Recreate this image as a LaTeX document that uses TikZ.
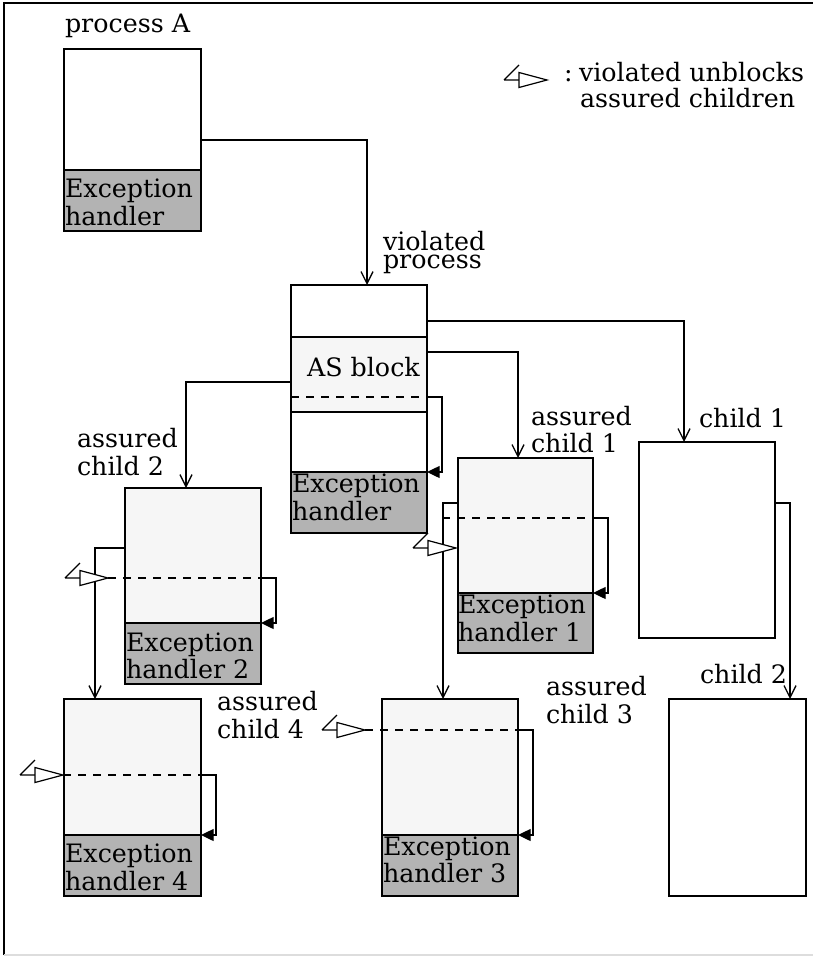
\documentclass[tikz,border=0pt]{standalone}
\usepackage{fontspec}
\setmainfont{DejaVu Serif}
\usetikzlibrary{arrows.meta,calc}

\definecolor{shade}{HTML}{F6F6F6}
\definecolor{handlergray}{HTML}{B3B3B3}
\definecolor{edgegray}{HTML}{DDDDDD}

% two stacked lines with a fixed baseline distance (in pt)
\newcommand\pairlines[3]{\vtop{\baselineskip=#1pt\lineskiplimit=-100pt\lineskip=0pt\hbox{#2}\hbox{#3}}}

\tikzset{
  every node/.style={inner sep=0pt, outer sep=0pt},
  txt/.style={anchor=base west, font=\fontsize{19pt}{21pt}\selectfont},
  blk/.style n args={2}{draw, line width=1pt, rectangle, anchor=north west,
    minimum width=#1*0.75pt, minimum height=#2*0.75pt},
  hdl/.style n args={2}{draw, line width=1pt, rectangle, anchor=south west,
    fill=handlergray, minimum width=#1*0.75pt, minimum height=#2*0.75pt},
  conn/.style={line width=1pt, -{Straight Barb[length=9pt, width=9pt, line width=1pt]}},
  guard/.style={line width=1pt, dash pattern=on 6pt off 5.25pt},
  loopback/.style={line width=1pt, -{Triangle[length=9.5pt, width=9pt]}},
  unblock/.pic={
    \draw[line width=0.9pt] (-43,0) -- (-28,0) (-43,0) -- (-28,-15);
    \draw[line width=0.9pt, fill=white] (-28,-7.5) -- (-28,7.5) -- (0,0) -- cycle;
  }
}

\begin{document}
\begin{tikzpicture}[x=0.75pt, y=-0.75pt]
\useasboundingbox (0,0) rectangle (813,956);

% frame
\draw[line width=1.5pt] (4,955) -- (4,3) -- (813,3);
\draw[edgegray, line width=1pt] (4,955) -- (813,955);

% process A
\node[txt] (lblA) at (65,33) {process A};
\node[blk={137}{182}, fill=white] (A) at (64,49) {};
\node[hdl={137}{61}] (Ah) at (A.south west) {};
\node[txt] (tA) at (65,197) {\pairlines{21}{Exception}{handler}};

% violated process with its AS block
\node[txt] (lblVP) at (383,250) {\pairlines{14}{violated}{process}};
\node[blk={136}{248}, fill=white] (VP) at (291,285) {};
\node[blk={136}{75}, fill=shade] (VPas) at (291,337) {};
\node[hdl={136}{61}] (VPh) at (VP.south west) {};
\node[txt] (tAS) at (307,376) {AS block};
\node[txt] (tVP) at (292,492) {\pairlines{21}{Exception}{handler}};

% assured child 1
\node[txt] (lblAC1) at (531,425) {\pairlines{20.25}{assured}{child 1}};
\node[blk={135}{195}, fill=shade] (AC1) at (458,458) {};
\node[hdl={135}{60}] (AC1h) at (AC1.south west) {};
\node[txt] (tAC1) at (458,613) {\pairlines{21}{Exception}{handler 1}};

% assured child 2
\node[txt] (lblAC2) at (77,447) {\pairlines{21}{assured}{child 2}};
\node[blk={136}{196}, fill=shade] (AC2) at (125,488) {};
\node[hdl={136}{61}] (AC2h) at (AC2.south west) {};
\node[txt] (tAC2) at (126,651) {\pairlines{20.25}{Exception}{handler 2}};

% assured child 3
\node[txt] (lblAC3) at (546,695) {\pairlines{21}{assured}{child 3}};
\node[blk={136}{197}, fill=shade] (AC3) at (382,699) {};
\node[hdl={136}{61}] (AC3h) at (AC3.south west) {};
\node[txt] (tAC3) at (383,855) {\pairlines{20.25}{Exception}{handler 3}};

% assured child 4
\node[txt] (lblAC4) at (217,710) {\pairlines{21}{assured}{child 4}};
\node[blk={137}{197}, fill=shade] (AC4) at (64,699) {};
\node[hdl={137}{61}] (AC4h) at (AC4.south west) {};
\node[txt] (tAC4) at (65,862) {\pairlines{21}{Exception}{handler 4}};

% ordinary children
\node[txt] (lblC1) at (699,427) {child 1};
\node[blk={136}{196}, fill=white] (C1) at (639,442) {};
\node[txt] (lblC2) at (700,683) {child 2};
\node[blk={137}{197}, fill=white] (C2) at (669,699) {};

% legend
\node[txt] (legendcolon) at (564,82) {:};
\node[txt] (legend1) at (579,82) {violated unblocks};
\node[txt] (legend2) at (580,108) {assured children};
\pic at (547,80) {unblock};

% creation connectors
\draw[conn] ($(A.north east)+(0,91)$) -| ($(VP.north west)+(76,0)$);
\draw[conn] ($(VP.north east)+(0,36)$) -| ($(C1.north west)+(45,0)$);
\draw[conn] ($(VP.north east)+(0,67)$) -| ($(AC1.north west)+(60,0)$);
\draw[conn] ($(VP.north west)+(0,97)$) -| ($(AC2.north west)+(61,0)$);
\draw[conn] ($(AC2.north west)+(0,60)$) -| ($(AC4.north west)+(31,0)$);
\draw[conn] ($(AC1.north west)+(0,45)$) -| ($(AC3.north west)+(61,0)$);
\draw[conn] ($(C1.north east)+(0,61)$) -| ($(C2.north west)+(121,0)$);

% guarded regions: dashed boundary and jump to the handler
\draw[guard] ($(VP.north west)+(0,112)$) -- ($(VP.north east)+(0,112)$);
\draw[loopback] ($(VP.north east)+(0,112)$) -- ++(15,0) |- (VPh.north east);

\draw[guard] ($(AC1.north west)+(-16,60)$) -- ($(AC1.north east)+(0,60)$);
\draw[loopback] ($(AC1.north east)+(0,60)$) -- ++(15,0) |- (AC1h.north east);

\draw[guard] ($(AC2.north west)+(-17,90)$) -- ($(AC2.north east)+(0,90)$);
\draw[loopback] ($(AC2.north east)+(0,90)$) -- ++(15,0) |- (AC2h.north east);

\draw[guard] ($(AC3.north west)+(-17,31)$) -- ($(AC3.north east)+(0,31)$);
\draw[loopback] ($(AC3.north east)+(0,31)$) -- ++(15,0) |- (AC3h.north east);

\draw[guard] ($(AC4.north west)+(-1,76)$) -- ($(AC4.north east)+(0,76)$);
\draw[loopback] ($(AC4.north east)+(0,76)$) -- ++(15,0) |- (AC4h.north east);

% unblock signals
\pic at ($(AC1.north west)+(-2,90)$) {unblock};
\pic at ($(AC2.north west)+(-17,90)$) {unblock};
\pic at ($(AC3.north west)+(-17,31)$) {unblock};
\pic at ($(AC4.north west)+(-1,76)$) {unblock};
\end{tikzpicture}
\end{document}
